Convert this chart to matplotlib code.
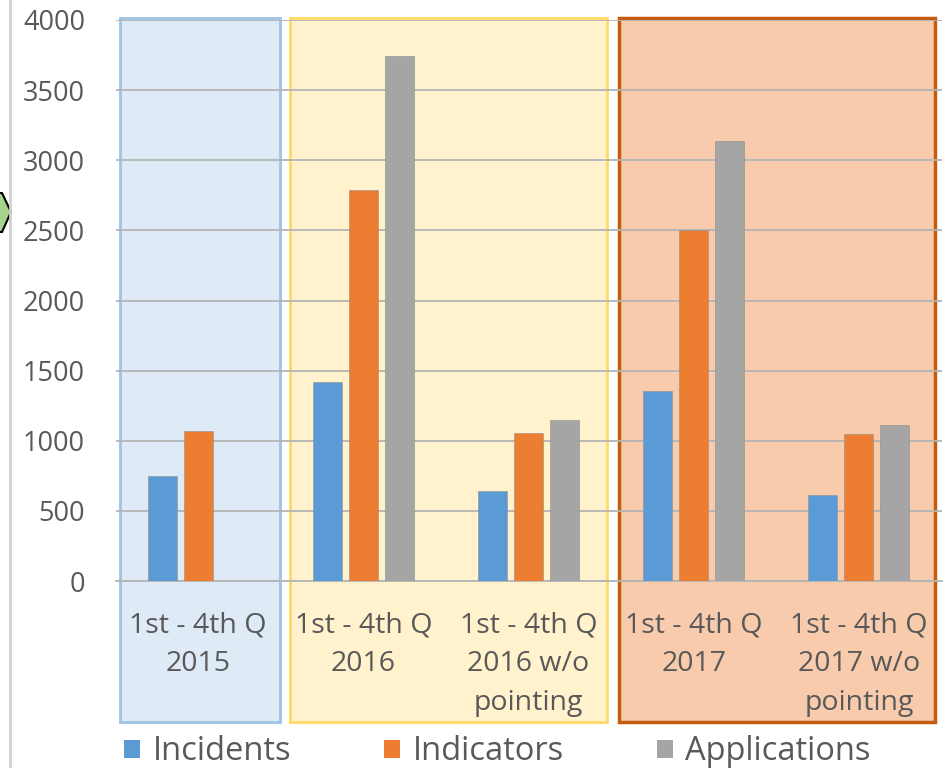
import numpy as np
import matplotlib.pyplot as plt
from matplotlib.patches import Rectangle, Patch, Polygon
from matplotlib.lines import Line2D

plt.rcParams['font.family'] = ['Open Sans', 'DejaVu Sans']

categories = ['1st - 4th Q\n2015', '1st - 4th Q\n2016', '1st - 4th Q\n2016 w/o\npointing',
              '1st - 4th Q\n2017', '1st - 4th Q\n2017 w/o\npointing']
series = ['Incidents', 'Indicators', 'Applications']
incidents = [750, 1420, 640, 1355, 615]
indicators = [1070, 2785, 1055, 2505, 1045]
applications = [0, 3745, 1145, 3140, 1110]
colors = ['#5b9bd5', '#ed7d31', '#a5a5a5']

# shaded groups: (left, right in category units, fill, edge, edge width)
groups = [(-0.473, 0.497, '#deeaf6', '#9dc3e6', 2.0),
          (0.558, 2.473, '#fff2cc', '#ffd966', 2.0),
          (2.545, 4.461, '#f8cbad', '#c55a11', 2.5)]

W, H = 947, 768
fig = plt.figure(figsize=(W / 100, H / 100), dpi=100)
ax = fig.add_axes([115.5 / W, 1 - 581 / H, 826 / W, 561 / H])

x = np.arange(len(categories))
step = 0.218
width = 0.176
for i, (name, vals) in enumerate(zip(series, [incidents, indicators, applications])):
    ax.bar(x + (i - 1) * step, vals, width, color=colors[i], zorder=3,
           edgecolor='#8f8f8f', linewidth=0.4)

# group boxes reach below the axis, around the category labels
for x0, x1, fc, ec, lw in groups:
    ax.add_patch(Rectangle((x0, -1005), x1 - x0, 5020, facecolor=fc, edgecolor=ec,
                           linewidth=lw, zorder=0, clip_on=False))

ax.set_xlim(-0.5, 4.5)
ax.set_ylim(0, 4000)
ax.set_yticks(np.arange(0, 4001, 500))
ax.yaxis.grid(True, color='#b4b4b4', linewidth=1.3, zorder=1)
ax.set_axisbelow(False)
for s in ['top', 'right', 'left']:
    ax.spines[s].set_visible(False)
ax.spines['bottom'].set_color('#b4b4b4')
ax.spines['bottom'].set_linewidth(1.3)
ax.spines['bottom'].set_zorder(1)
ax.patch.set_visible(False)
ax.tick_params(axis='y', length=0, pad=22, labelsize=19.5, labelcolor='#595959')
ax.tick_params(axis='x', length=0, pad=22, labelsize=20.5, labelcolor='#595959')
ax.set_xticks(x)
ax.set_xticklabels(categories, linespacing=1.52)

handles = [Patch(facecolor=c, edgecolor='none') for c in colors]
leg = fig.legend(handles, series, loc='center left', bbox_to_anchor=(124 / W, 16 / H),
                 ncol=3, frameon=False, fontsize=23.5, handlelength=0.5, handleheight=0.5,
                 handletextpad=0.37, columnspacing=2.85, borderaxespad=0, borderpad=0)
for t in leg.get_texts():
    t.set_color('#595959')

# left edge decorations
fig.add_artist(Line2D([10 / W, 10 / W], [0, 1], color='#d0d0d0', linewidth=2))
pts = [(-6, 193), (2, 193), (11, 212), (2, 232), (-6, 232)]
fig.add_artist(Polygon([(px / W, 1 - py / H) for px, py in pts], closed=True,
                       facecolor='#a9d18e', edgecolor='black', linewidth=1.5))

fig.savefig('out.png', dpi=100)
